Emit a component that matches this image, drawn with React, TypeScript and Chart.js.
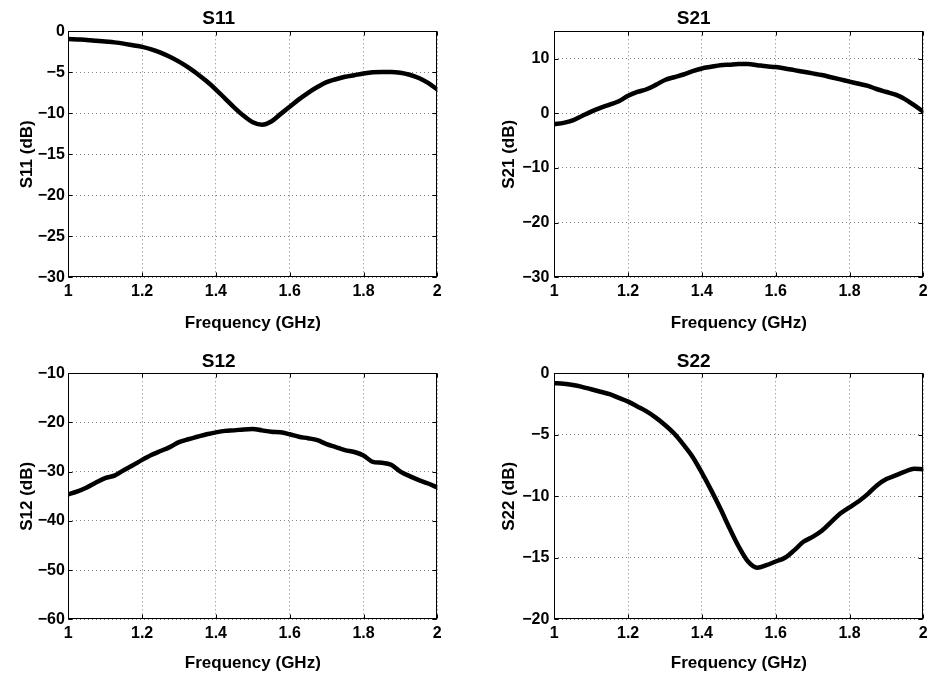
import React, { useEffect, useRef } from 'react';
import { Chart, registerables } from 'chart.js';

Chart.register(...registerables);

// ---- data ----
const freqGHz = [
  1.0, 1.025, 1.05, 1.075, 1.1, 1.125, 1.15, 1.175, 1.2, 1.225,
  1.25, 1.275, 1.3, 1.325, 1.35, 1.375, 1.4, 1.425, 1.45, 1.475,
  1.5, 1.525, 1.55, 1.575, 1.6, 1.625, 1.65, 1.675, 1.7, 1.725,
  1.75, 1.775, 1.8, 1.825, 1.85, 1.875, 1.9, 1.925, 1.95, 1.975, 2.0,
];

const s11dB = [
  -0.95, -1.0, -1.05, -1.15, -1.25, -1.35, -1.5, -1.7, -1.9, -2.2,
  -2.6, -3.1, -3.7, -4.4, -5.2, -6.1, -7.1, -8.2, -9.3, -10.3,
  -11.1, -11.4, -11.0, -10.1, -9.2, -8.3, -7.5, -6.8, -6.2, -5.85,
  -5.55, -5.35, -5.15, -5.0, -4.95, -4.95, -5.05, -5.3, -5.7, -6.3, -7.1,
];

const s21dB = [
  -2.0, -1.75, -1.3, -0.5, 0.3, 1.0, 1.6, 2.2, 3.2, 3.9,
  4.4, 5.2, 6.1, 6.6, 7.1, 7.7, 8.2, 8.5, 8.8, 8.9,
  9.0, 9.0, 8.8, 8.6, 8.45, 8.2, 7.9, 7.6, 7.3, 7.0,
  6.6, 6.2, 5.8, 5.4, 5.0, 4.4, 3.9, 3.4, 2.6, 1.5, 0.3,
];

const s12dB = [
  -34.6, -34.0, -33.2, -32.2, -31.3, -30.8, -29.7, -28.7, -27.6, -26.6,
  -25.8, -25.0, -24.0, -23.4, -22.9, -22.4, -22.0, -21.7, -21.6, -21.4,
  -21.3, -21.6, -21.9, -22.0, -22.4, -22.9, -23.2, -23.6, -24.4, -25.0,
  -25.6, -26.0, -26.7, -28.0, -28.2, -28.6, -30.0, -30.9, -31.7, -32.4, -33.2,
];

const s22dB = [
  -0.8, -0.85, -0.95, -1.1, -1.3, -1.5, -1.7, -2.0, -2.3, -2.7,
  -3.1, -3.6, -4.2, -4.9, -5.8, -6.8, -8.1, -9.5, -11.0, -12.6,
  -14.1, -15.3, -15.8, -15.6, -15.3, -15.0, -14.4, -13.7, -13.3, -12.8,
  -12.1, -11.4, -10.9, -10.4, -9.8, -9.1, -8.6, -8.3, -8.0, -7.75, -7.8,
];

const panelTitles = ['S11', 'S21', 'S12', 'S22'];
const yAxisLabels = ['S11 (dB)', 'S21 (dB)', 'S12 (dB)', 'S22 (dB)'];
const xAxisLabel = 'Frequency (GHz)';
const yRanges = [
  [-30, 0, 5],
  [-30, 15, 10],
  [-60, -10, 10],
  [-20, 0, 5],
];
const xRange = [1, 2, 0.2];
const seriesList = [s11dB, s21dB, s12dB, s22dB];

// ---- layout ----
const FONT = "'Liberation Sans', Arial, Helvetica, sans-serif";

type Geo = {
  left: number; top: number; w: number; h: number;
  yWidth: number; padRight: number;
  titleTop: number; titleBottom: number;
  xHeight: number; xTitlePadBottom: number;
  yTitlePad: number; yTickPad: number;
};

const geos: Geo[] = [
  { left: 0, top: 0, w: 464, h: 338, yWidth: 68.3, padRight: 26.7, titleTop: 7.8, titleBottom: 0.7, xHeight: 60.7, xTitlePadBottom: 4.5, yTitlePad: 16.8, yTickPad: 3.5 },
  { left: 464, top: 0, w: 464, h: 338, yWidth: 90.3, padRight: 4.7, titleTop: 7.8, titleBottom: 0.7, xHeight: 60.7, xTitlePadBottom: 4.5, yTitlePad: 35.1, yTickPad: 5 },
  { left: 0, top: 338, w: 464, h: 339, yWidth: 68.3, padRight: 26.7, titleTop: 12.5, titleBottom: 0, xHeight: 57.7, xTitlePadBottom: 3.5, yTitlePad: 16.8, yTickPad: 3.5 },
  { left: 464, top: 338, w: 464, h: 339, yWidth: 90.3, padRight: 4.7, titleTop: 12.5, titleBottom: 0, xHeight: 57.7, xTitlePadBottom: 3.5, yTitlePad: 35.1, yTickPad: 5 },
];

const framePlugin = {
  id: 'matlabFrame',
  afterDatasetsDraw(chart: any) {
    const { ctx, chartArea: a, scales } = chart;
    const L = Math.round(a.left) + 0.5;
    const R = Math.round(a.right) - 0.5;
    const T = Math.round(a.top) + 0.5;
    const B = Math.round(a.bottom) - 0.5;
    const tl = 4;
    ctx.save();
    ctx.strokeStyle = '#000';
    ctx.lineWidth = 1;
    ctx.setLineDash([]);
    ctx.beginPath();
    scales.x.ticks.forEach((t: any) => {
      const p = Math.round(scales.x.getPixelForValue(t.value)) + 0.5;
      ctx.moveTo(p, B); ctx.lineTo(p, B - tl);
      ctx.moveTo(p, T); ctx.lineTo(p, T + tl);
    });
    scales.y.ticks.forEach((t: any) => {
      const p = Math.round(scales.y.getPixelForValue(t.value)) + 0.5;
      ctx.moveTo(L, p); ctx.lineTo(L + tl, p);
      ctx.moveTo(R, p); ctx.lineTo(R - tl, p);
    });
    ctx.stroke();
    ctx.strokeRect(L, T, R - L, B - T);
    ctx.restore();
  },
};

const minusFmt = (v: number) => {
  const r = Math.round(v * 100) / 100;
  return r < 0 ? '\u2212' + String(Math.abs(r)) : String(r);
};

function buildConfig(i: number): any {
  const g = geos[i];
  const [ymin, ymax, ystep] = yRanges[i];
  const values = seriesList[i];
  const gridColor = 'rgba(0,0,0,0.5)';
  return {
    type: 'line',
    data: {
      datasets: [
        {
          data: freqGHz.map((f, k) => ({ x: f, y: values[k] })),
          borderColor: '#000',
          backgroundColor: '#000',
          borderWidth: 4.5,
          pointRadius: 0,
          cubicInterpolationMode: 'monotone',
          borderCapStyle: 'round',
          borderJoinStyle: 'round',
          fill: false,
        },
      ],
    },
    options: {
      animation: false,
      responsive: false,
      maintainAspectRatio: false,
      devicePixelRatio: 1,
      layout: { padding: { left: 0, right: g.padRight, top: 0, bottom: 0 } },
      plugins: {
        legend: { display: false },
        tooltip: { enabled: false },
        title: {
          display: true,
          text: panelTitles[i],
          color: '#000',
          font: { family: FONT, size: 19, weight: 'bold', lineHeight: 1.2 },
          padding: { top: g.titleTop, bottom: g.titleBottom },
        },
      },
      scales: {
        x: {
          type: 'linear',
          min: xRange[0],
          max: xRange[1],
          ticks: {
            stepSize: xRange[2],
            autoSkip: false,
            maxRotation: 0,
            minRotation: 0,
            padding: 5,
            color: '#000',
            font: { family: FONT, size: 16, weight: 'bold', lineHeight: 1.2 },
            callback: (v: number) => minusFmt(v),
          },
          grid: { color: gridColor, lineWidth: 1, drawTicks: false },
          border: { display: false, dash: [1, 3] },
          title: {
            display: true,
            text: xAxisLabel,
            color: '#000',
            font: { family: FONT, size: 17, weight: 'bold', lineHeight: 1.2 },
            padding: { top: 0, bottom: g.xTitlePadBottom },
          },
          afterFit: (s: any) => {
            s.height = g.xHeight;
            s.paddingLeft = 0;
            s.paddingRight = 0;
          },
        },
        y: {
          type: 'linear',
          min: ymin,
          max: ymax,
          ticks: {
            stepSize: ystep,
            includeBounds: false,
            autoSkip: false,
            padding: g.yTickPad,
            color: '#000',
            font: { family: FONT, size: 16, weight: 'bold', lineHeight: 1.2 },
            callback: (v: number) => minusFmt(v),
          },
          grid: { color: gridColor, lineWidth: 1, drawTicks: false },
          border: { display: false, dash: [1, 3] },
          title: {
            display: true,
            text: yAxisLabels[i],
            color: '#000',
            font: { family: FONT, size: 17, weight: 'bold', lineHeight: 1.2 },
            padding: { top: g.yTitlePad, bottom: 0 },
          },
          afterFit: (s: any) => {
            s.width = g.yWidth;
            s.paddingTop = 0;
            s.paddingBottom = 0;
          },
        },
      },
    },
    plugins: [framePlugin],
  };
}

function Panel({ index }: { index: number }) {
  const ref = useRef<HTMLCanvasElement>(null);
  const g = geos[index];
  useEffect(() => {
    if (!ref.current) return;
    const chart = new Chart(ref.current, buildConfig(index));
    return () => chart.destroy();
  }, [index]);
  return (
    <canvas
      ref={ref}
      width={g.w}
      height={g.h}
      style={{ position: 'absolute', left: g.left, top: g.top, width: g.w, height: g.h, display: 'block' }}
    />
  );
}

export default function App() {
  return (
    <div style={{ position: 'absolute', left: 0, top: 0, width: 928, height: 677, background: '#fff', overflow: 'hidden' }}>
      {[0, 1, 2, 3].map((i) => (
        <Panel key={i} index={i} />
      ))}
    </div>
  );
}
